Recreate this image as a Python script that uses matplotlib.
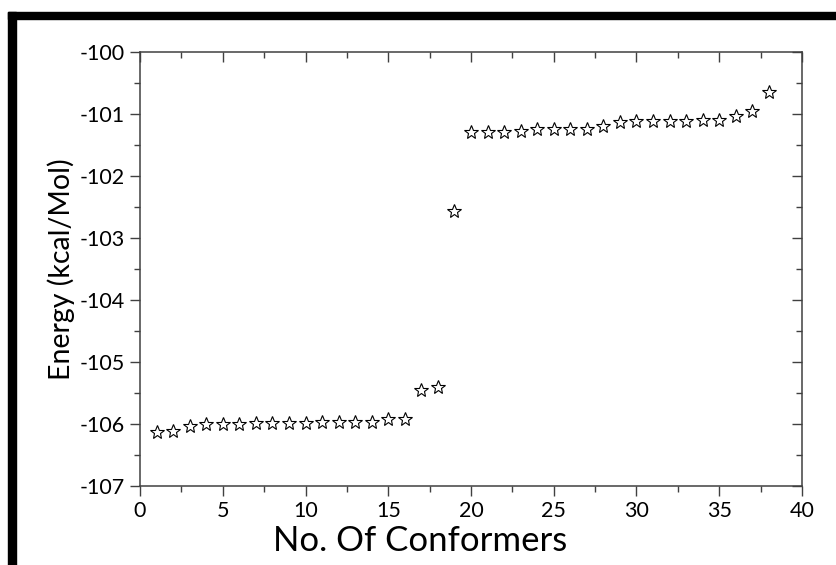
import matplotlib.pyplot as plt
from matplotlib.patches import Rectangle
from matplotlib.ticker import MultipleLocator

plt.rcParams['font.family'] = ['Lato', 'DejaVu Sans']
plt.rcParams['axes.unicode_minus'] = False

# conformer index and energy (kcal/Mol)
conformers = list(range(1, 39))
energy = [-106.13, -106.11, -106.04, -106.00, -106.00, -106.00, -105.98, -105.98,
          -105.98, -105.98, -105.97, -105.97, -105.97, -105.96, -105.92, -105.92,
          -105.45, -105.40, -102.56, -101.29, -101.29, -101.29, -101.28, -101.25,
          -101.25, -101.25, -101.24, -101.20, -101.13, -101.12, -101.11, -101.11,
          -101.11, -101.10, -101.10, -101.03, -100.95, -100.65]

fig = plt.figure(figsize=(8.36, 5.65), dpi=100)
ax = fig.add_axes([0.1675, 0.1398, 0.7918, 0.7682])

ax.plot(conformers, energy, linestyle='none', marker='*', markersize=10,
        markerfacecolor='white', markeredgecolor='black', markeredgewidth=0.8)

ax.set_xlim(0, 40)
ax.set_ylim(-107, -100)
ax.xaxis.set_major_locator(MultipleLocator(5))
ax.xaxis.set_minor_locator(MultipleLocator(2.5))
ax.yaxis.set_major_locator(MultipleLocator(1))
ax.yaxis.set_minor_locator(MultipleLocator(0.5))

for sp in ax.spines.values():
    sp.set_color('#404040')
    sp.set_linewidth(1.1)

ax.tick_params(which='both', direction='out', color='#404040', width=1.0,
               labelsize=15.5, top=False, right=False)
ax.tick_params(which='major', length=7)
ax.tick_params(which='minor', length=4)
ax.tick_params(axis='x', which='major', pad=4)
ax.tick_params(axis='y', which='major', pad=4)

# inward mirror ticks on top and right
sec_x = ax.secondary_xaxis('top')
sec_x.xaxis.set_major_locator(MultipleLocator(5))
sec_x.xaxis.set_minor_locator(MultipleLocator(2.5))
sec_x.tick_params(which='both', direction='in', color='#404040', width=1.0, labeltop=False)
sec_x.tick_params(which='major', length=7)
sec_x.tick_params(which='minor', length=4)
sec_x.spines['top'].set_visible(False)
sec_y = ax.secondary_yaxis('right')
sec_y.yaxis.set_major_locator(MultipleLocator(1))
sec_y.yaxis.set_minor_locator(MultipleLocator(0.5))
sec_y.tick_params(which='both', direction='in', color='#404040', width=1.0, labelright=False)
sec_y.tick_params(which='major', length=7)
sec_y.tick_params(which='minor', length=4)
sec_y.spines['right'].set_visible(False)

ax.set_xlabel('No. Of Conformers', fontsize=25)
ax.xaxis.set_label_coords(0.423, -0.09)
ax.set_ylabel('Energy (kcal/Mol)', fontsize=20.5, labelpad=3)

# black frame on top and left
fig.patches.append(Rectangle((8 / 836, 1 - 19 / 565), 1, 7 / 565,
                             transform=fig.transFigure, color='black', zorder=0))
fig.patches.append(Rectangle((8 / 836, 0), 8 / 836, 1 - 12 / 565,
                             transform=fig.transFigure, color='black', zorder=0))

fig.savefig('out.png', dpi=100)
